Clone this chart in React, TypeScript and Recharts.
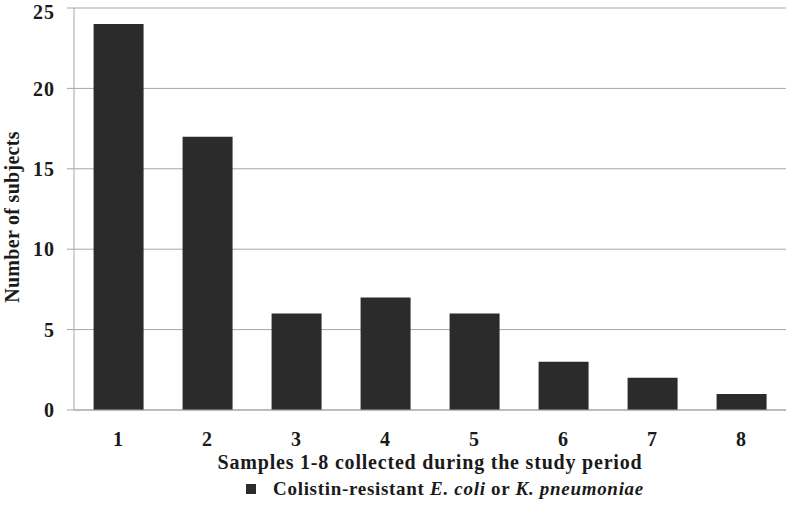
import React from "react";
import { BarChart, Bar, XAxis, YAxis, CartesianGrid, Legend } from "recharts";

const samples = ["1", "2", "3", "4", "5", "6", "7", "8"];
const subjects = [24, 17, 6, 7, 6, 3, 2, 1];
const yTicks = [0, 5, 10, 15, 20, 25];

const data = samples.map((name, i) => ({ name, subjects: subjects[i] }));

const font = "'Liberation Serif', 'Times New Roman', serif";
const barColor = "#2b2b2b";
const gridColor = "#a6a6a6";
const textColor = "#1a1a1a";

const LegendContent = () => (
  <div
    style={{
      height: 30,
      display: "flex",
      alignItems: "center",
      justifyContent: "center",
      fontFamily: font,
      fontWeight: "bold",
      fontSize: 19,
      letterSpacing: 0.7,
      color: textColor,
      paddingLeft: 104,
      marginTop: -4,
    }}
  >
    <span
      style={{
        display: "inline-block",
        width: 10,
        height: 10,
        background: barColor,
        marginRight: 17,
      }}
    />
    <span>
      Colistin-resistant <i>E. coli</i> or <i>K. pneumoniae</i>
    </span>
  </div>
);

const YLabel = () => (
  <text
    x={12}
    y={217}
    transform="rotate(-90 12 217)"
    textAnchor="middle"
    dominantBaseline="central"
    fill={textColor}
    fontFamily={font}
    fontWeight="bold"
    fontSize={20}
    letterSpacing={0.3}
  >
    Number of subjects
  </text>
);

export default function App() {
  return (
    <div style={{ position: "absolute", left: 0, top: 0, background: "#fff" }}>
      <BarChart
        width={787}
        height={508}
        data={data}
        margin={{ top: 8, right: 1, bottom: 0, left: 0 }}
        barCategoryGap="22%"
      >
        <CartesianGrid vertical={false} stroke={gridColor} />
        <XAxis
          dataKey="name"
          height={68}
          stroke={gridColor}
          tickLine={false}
          tickMargin={16}
          tick={{ fill: textColor, fontFamily: font, fontWeight: "bold", fontSize: 20, letterSpacing: 1 }}
          label={{
            value: "Samples 1-8 collected during the study period",
            position: "insideBottom",
            offset: 9,
            fill: textColor,
            fontFamily: font,
            fontWeight: "bold",
            fontSize: 20,
            letterSpacing: 0.8,
          }}
        />
        <YAxis
          width={74}
          domain={[0, 25]}
          ticks={yTicks}
          stroke={gridColor}
          tickSize={7}
          tickMargin={12}
          tick={{ fill: textColor, fontFamily: font, fontWeight: "bold", fontSize: 20, letterSpacing: 1 }}
          label={<YLabel />}
        />
        <Legend verticalAlign="bottom" height={30} content={<LegendContent />} />
        <Bar dataKey="subjects" fill={barColor} isAnimationActive={false} />
      </BarChart>
    </div>
  );
}
